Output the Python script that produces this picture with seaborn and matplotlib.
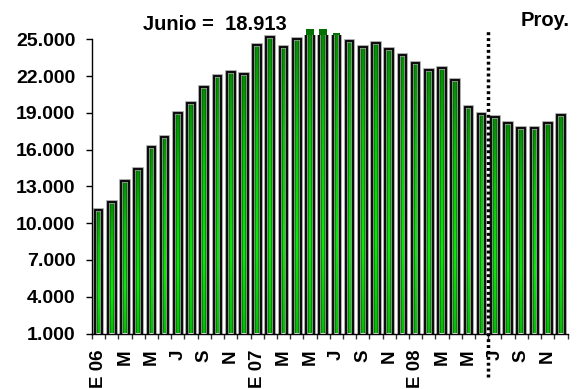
import numpy as np
import pandas as pd
import matplotlib
matplotlib.use("Agg")
import matplotlib.pyplot as plt
import matplotlib.patheffects as pe
from matplotlib.patches import Rectangle
from matplotlib.ticker import FuncFormatter
import seaborn as sns

# Monthly series, January 2006 - December 2008 (last months are projections)
months = [f"{y}-{m:02d}" for y in (2006, 2007, 2008) for m in range(1, 13)]
values = [11100, 11750, 13400, 14450, 16200, 17000, 19000, 19800, 21100, 22000, 22350, 22200,
          24550, 25200, 24400, 25000, 25800, 25800, 25500, 24900, 24400, 24700, 24200, 23750,
          23100, 22500, 22650, 21700, 19500, 18913, 18700, 18200, 17750, 17750, 18200, 18850]
tick_labels = ["E 06", "M", "M", "J", "S", "N",
               "E 07", "M", "M", "J", "S", "N",
               "E 08", "M", "M", "J", "S", "N"]
june_index = 29          # June 2008, last observed month
proj_label = "Proy."

Y_MIN, Y_MAX, Y_TOP = 1000, 25000, 25350

sns.set_theme(style="white")
plt.rcParams["font.family"] = ["Liberation Sans", "DejaVu Sans"]
plt.rcParams["font.weight"] = "bold"
for key in ("text.color", "axes.labelcolor", "xtick.color", "ytick.color"):
    plt.rcParams[key] = "black"

fig = plt.figure(figsize=(5.81, 3.89), dpi=100)
ax = fig.add_axes([92 / 581, 55.5 / 389, 475.5 / 581, 298.5 / 389])

df = pd.DataFrame({"mes": months, "valor": values})
sns.barplot(data=df, x="mes", y="valor", ax=ax, width=0.58, color="#008000",
            saturation=1, edgecolor="black", linewidth=1.3, errorbar=None)

# green gradient: bright centre stripe, darker at the top of each bar
nx, ny = 32, 64
u = np.linspace(0, 1, nx)
t = np.linspace(0, 1, ny)[:, None]
hprof = np.exp(-((u - 0.5) / 0.2) ** 2)[None, :]
vprof = np.interp(t, [0.0, 0.3, 0.7, 1.0], [0.7, 1.0, 0.75, 0.35])
mix = hprof * vprof
dark = np.array([0.0, 0.36, 0.0])
bright = np.array([0.05, 1.0, 0.05])
grad = dark[None, None, :] + (bright - dark)[None, None, :] * mix[..., None]

for p, v in zip(ax.patches, values):
    x0, w = p.get_x(), p.get_width()
    top = min(v, Y_TOP)
    ax.imshow(grad, extent=[x0, x0 + w, Y_MIN, top], origin="lower",
              aspect="auto", interpolation="bilinear", zorder=1.5)
    p.set_facecolor("none")
    p.set_zorder(2)
    p.set_path_effects([pe.withStroke(linewidth=2.6, foreground="#9a9a9a")])
    if v > Y_TOP:
        ax.add_patch(Rectangle((x0, Y_TOP), w, v - Y_TOP, facecolor="#007000",
                               edgecolor="none", clip_on=False, zorder=2))

ax.set_xlim(-0.5, len(values) - 0.5)
ax.set_ylim(Y_MIN, Y_TOP)

# y axis
ax.set_yticks(np.arange(Y_MIN, Y_MAX + 1, 3000))
ax.yaxis.set_major_formatter(FuncFormatter(lambda v, _: f"{v:,.0f}".replace(",", ".")))
ax.tick_params(axis="y", length=4, width=1, color="black", pad=8, labelsize=14,
               labelcolor="black", left=True)
ax.spines["left"].set_bounds(Y_MIN, Y_MAX)

# x axis: tick marks between months, labels every second month
ax.set_xticks(np.arange(-0.5, len(values), 1))
ax.set_xticklabels([])
ax.tick_params(axis="x", which="major", length=3.5, width=1, color="#333333",
               bottom=True)
ax.set_xticks(np.arange(0, len(values), 2), minor=True)
ax.set_xticklabels(tick_labels, minor=True, rotation=90, fontsize=13.5,
                   fontweight="bold", va="top", ha="center", color="black")
ax.tick_params(axis="x", which="minor", length=0, pad=11.5)

for s in ("top", "right"):
    ax.spines[s].set_visible(False)
for s in ("left", "bottom"):
    ax.spines[s].set_color("black")
    ax.spines[s].set_linewidth(1.0)
ax.set_xlabel("")
ax.set_ylabel("")

# separator between observed and projected months
ax.axvline(june_index + 0.5, ymin=-0.146, ymax=1.013, color="black", lw=2.5,
           linestyle=(0, (0.85, 0.85)), clip_on=False, zorder=3)

june_txt = f"{values[june_index]:,.0f}".replace(",", ".")
fig.text(215 / 581, 1 - 25 / 389, f"Junio =  {june_txt}", ha="center",
         va="center", fontsize=14.5, fontweight="bold", color="black")
fig.text(545 / 581, 1 - 20 / 389, proj_label, ha="center", va="center",
         fontsize=14.5, fontweight="bold", color="black")

fig.savefig("out.png", dpi=100)
